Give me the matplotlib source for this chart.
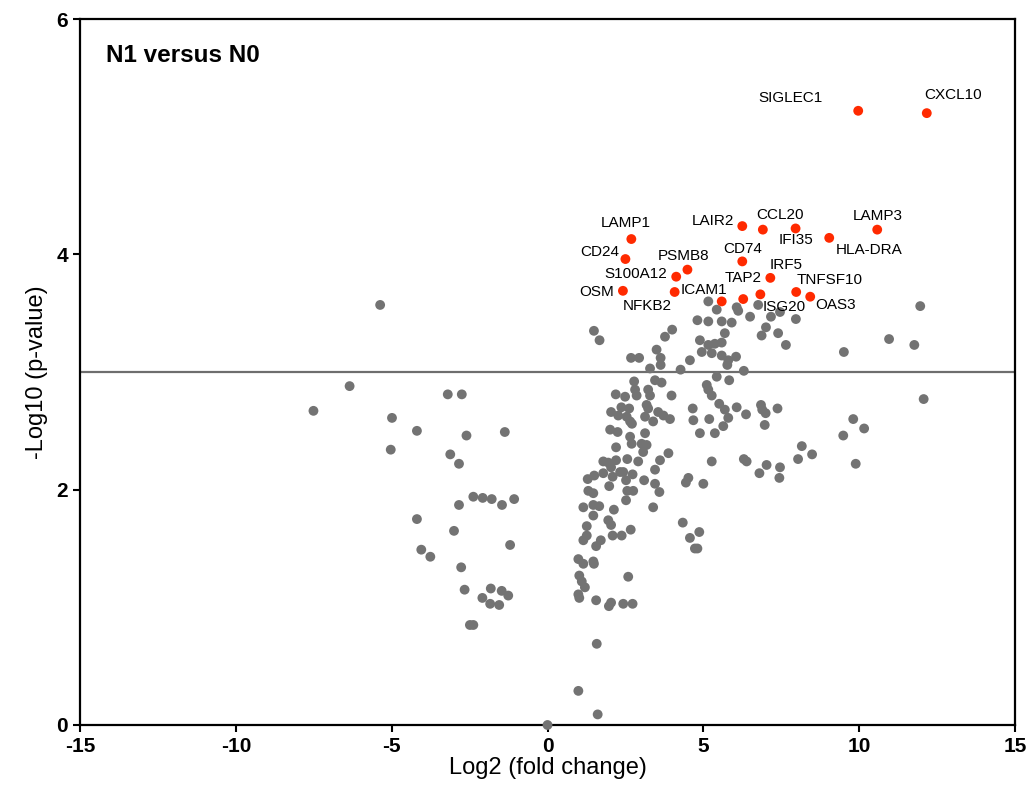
import matplotlib
matplotlib.use("Agg")
import matplotlib.pyplot as plt

plt.rcParams['font.family'] = ['Liberation Sans', 'DejaVu Sans']
plt.rcParams['axes.unicode_minus'] = False

# background genes (not significant / not labelled)
bg_fc = [
    -5.37, -6.35, -7.51, -3.20, -2.75, -4.99, -4.19, -2.60, -1.37, -5.03,
    -3.12, -2.84, -2.38, -2.08, -1.79, -1.46, -1.07, -2.84, -4.19, -3.00,
    -1.20, -4.05, -3.76, -2.77, -2.66, -1.82, -1.47, -1.26, -2.09, -1.84,
    -1.55, -2.49, -2.38, 0.00,
    # 0..3
    1.49, 1.67, 2.68, 2.94, 2.78, 2.19, 2.49, 2.81, 2.86, 2.37,
    2.62, 2.04, 2.27, 2.54, 2.65, 2.71, 2.01, 2.25,
    2.65, 2.70, 2.20, 2.56, 2.91, 1.79, 1.95, 2.04, 2.20, 2.33,
    2.43, 2.73, 2.09, 2.52, 1.29, 1.50, 1.79, 1.98, 1.31, 1.47,
    2.56, 2.75, 2.52, 1.15, 1.47, 1.66, 2.13, 1.47, 1.26, 1.95,
    2.04, 2.09, 2.38, 2.67, 1.15, 1.26, 1.71, 1.56, 0.99, 1.15,
    1.47, 1.49, 1.02, 2.59,
    1.10, 1.20, 0.99, 1.02, 1.56, 2.04, 1.97, 2.43, 2.73, 1.58,
    0.99, 1.61,
    # 3..6.5
    5.16, 5.43, 6.07, 6.12, 6.50, 4.81, 5.16, 5.59, 5.91, 5.69,
    4.00, 3.77, 4.89, 5.16, 5.37, 5.59, 4.95, 5.27, 5.59, 5.80,
    5.77, 6.05, 3.50, 3.63, 3.63, 3.29, 4.57, 4.27, 6.30, 5.43,
    5.83, 3.45, 3.66, 5.11, 5.16, 5.27, 3.23, 3.29, 3.98, 5.51,
    5.69, 6.07, 6.37, 3.18, 3.23, 3.13, 3.55, 3.72, 3.93, 3.39,
    4.66, 4.68, 5.19, 5.80, 5.64, 5.37, 4.89, 3.13,
    3.02, 3.18, 3.07, 3.61, 3.88, 3.45, 3.10, 3.45, 3.59, 3.39,
    5.27, 6.30, 6.39, 4.52, 4.44, 5.00, 4.34, 4.87, 4.57, 4.73,
    4.81,
    # right side
    6.76, 7.17, 7.46, 7.97, 7.01, 6.87, 7.40, 7.65, 9.51, 10.96,
    11.77, 11.96, 12.07, 6.85, 6.89, 7.00, 7.38, 6.97, 9.81, 10.16,
    9.49, 8.16, 8.49, 8.04, 9.89, 7.03, 7.46, 6.80, 7.44,
]
bg_p = [
    3.57, 2.88, 2.67, 2.81, 2.81, 2.61, 2.50, 2.46, 2.49, 2.34,
    2.30, 2.22, 1.94, 1.93, 1.92, 1.87, 1.92, 1.87, 1.75, 1.65,
    1.53, 1.49, 1.43, 1.34, 1.15, 1.16, 1.14, 1.10, 1.08, 1.03,
    1.02, 0.85, 0.85, 0.00,
    3.35, 3.27, 3.12, 3.12, 2.92, 2.81, 2.79, 2.85, 2.80, 2.70,
    2.69, 2.66, 2.63, 2.62, 2.58, 2.56, 2.51, 2.49,
    2.45, 2.39, 2.36, 2.26, 2.24, 2.24, 2.23, 2.19, 2.25, 2.15,
    2.15, 2.13, 2.11, 2.08, 2.09, 2.12, 2.14, 2.03, 1.99, 1.97,
    1.99, 1.99, 1.91, 1.85, 1.87, 1.86, 1.83, 1.78, 1.69, 1.74,
    1.70, 1.61, 1.61, 1.66, 1.57, 1.61, 1.57, 1.52, 1.41, 1.37,
    1.39, 1.37, 1.27, 1.26,
    1.22, 1.17, 1.11, 1.08, 1.06, 1.04, 1.01, 1.03, 1.03, 0.69,
    0.29, 0.09,
    3.60, 3.53, 3.55, 3.52, 3.47, 3.44, 3.43, 3.43, 3.42, 3.33,
    3.36, 3.30, 3.27, 3.23, 3.24, 3.25, 3.17, 3.16, 3.14, 3.10,
    3.06, 3.13, 3.19, 3.12, 3.06, 3.03, 3.10, 3.02, 3.01, 2.96,
    2.93, 2.93, 2.91, 2.89, 2.85, 2.80, 2.85, 2.80, 2.80, 2.73,
    2.68, 2.70, 2.64, 2.72, 2.69, 2.62, 2.66, 2.63, 2.60, 2.58,
    2.69, 2.59, 2.60, 2.61, 2.54, 2.48, 2.48, 2.48,
    2.39, 2.38, 2.32, 2.25, 2.31, 2.17, 2.08, 2.05, 1.98, 1.85,
    2.24, 2.26, 2.24, 2.10, 2.06, 2.05, 1.72, 1.64, 1.59, 1.50,
    1.50,
    3.57, 3.47, 3.51, 3.45, 3.38, 3.31, 3.33, 3.23, 3.17, 3.28,
    3.23, 3.56, 2.77, 2.72, 2.68, 2.65, 2.69, 2.55, 2.60, 2.52,
    2.46, 2.37, 2.30, 2.26, 2.22, 2.21, 2.19, 2.14, 2.10,
]

# highlighted genes
sig_genes = ['SIGLEC1', 'CXCL10', 'LAMP1', 'CD24', 'S100A12', 'PSMB8', 'OSM',
             'NFKB2', 'ICAM1', 'LAIR2', 'CCL20', 'IFI35', 'HLA-DRA', 'LAMP3',
             'CD74', 'IRF5', 'TAP2', 'ISG20', 'TNFSF10', 'OAS3']
sig_fc = [9.97, 12.17, 2.69, 2.50, 4.13, 4.49, 2.42, 4.08, 5.59, 6.25,
          6.91, 7.96, 9.04, 10.58, 6.25, 7.15, 6.83, 6.28, 7.98, 8.43]
sig_p = [5.22, 5.20, 4.13, 3.96, 3.81, 3.87, 3.69, 3.68, 3.60, 4.24,
         4.21, 4.22, 4.14, 4.21, 3.94, 3.80, 3.66, 3.62, 3.68, 3.64]

# label offsets in pixels from each point
label_offsets = [(-68, 13), (26, 18), (-6, 16), (-26, 7), (-40, 3), (-4, 14),
                 (-26, -1), (-27, -14), (-18, 11), (-29, 5), (17, 15), (0, -12),
                 (40, -12), (1, 14), (0, 12), (16, 13), (-17, 16), (41, -8),
                 (33, 12), (25, -8)]

threshold = 3

fig = plt.figure(figsize=(10.34, 7.92), dpi=100)
ax = fig.add_axes([0.0774, 0.0846, 0.9042, 0.8914])

ax.axhline(threshold, color='#6e6e6e', linewidth=1.6, zorder=1)
ax.scatter(bg_fc, bg_p, s=50, color='#737373', edgecolors='none', zorder=3, clip_on=False)
ax.scatter(sig_fc, sig_p, s=50, color='#ff2a00', edgecolors='none', zorder=4, clip_on=False)

for g, x, y, off in zip(sig_genes, sig_fc, sig_p, label_offsets):
    ax.annotate(g, (x, y), xytext=off, textcoords='offset pixels',
                ha='center', va='center', fontsize=11, color='black')

ax.text(0.028, 0.965, 'N1 versus N0', transform=ax.transAxes, fontsize=17.5,
        fontweight='bold', ha='left', va='top')

ax.set_xlim(-15, 15)
ax.set_ylim(0, 6)
ax.set_xticks([-15, -10, -5, 0, 5, 10, 15])
ax.set_yticks([0, 2, 4, 6])
for lab in ax.get_xticklabels() + ax.get_yticklabels():
    lab.set_fontweight('bold')
ax.tick_params(axis='both', labelsize=15, width=1.5, length=5, direction='out')
for sp in ax.spines.values():
    sp.set_linewidth(1.6)

ax.set_xlabel('Log2 (fold change)', fontsize=17, labelpad=1)
ax.set_ylabel('-Log10 (p-value)', fontsize=17, labelpad=6)

fig.savefig('out.png', dpi=100)
